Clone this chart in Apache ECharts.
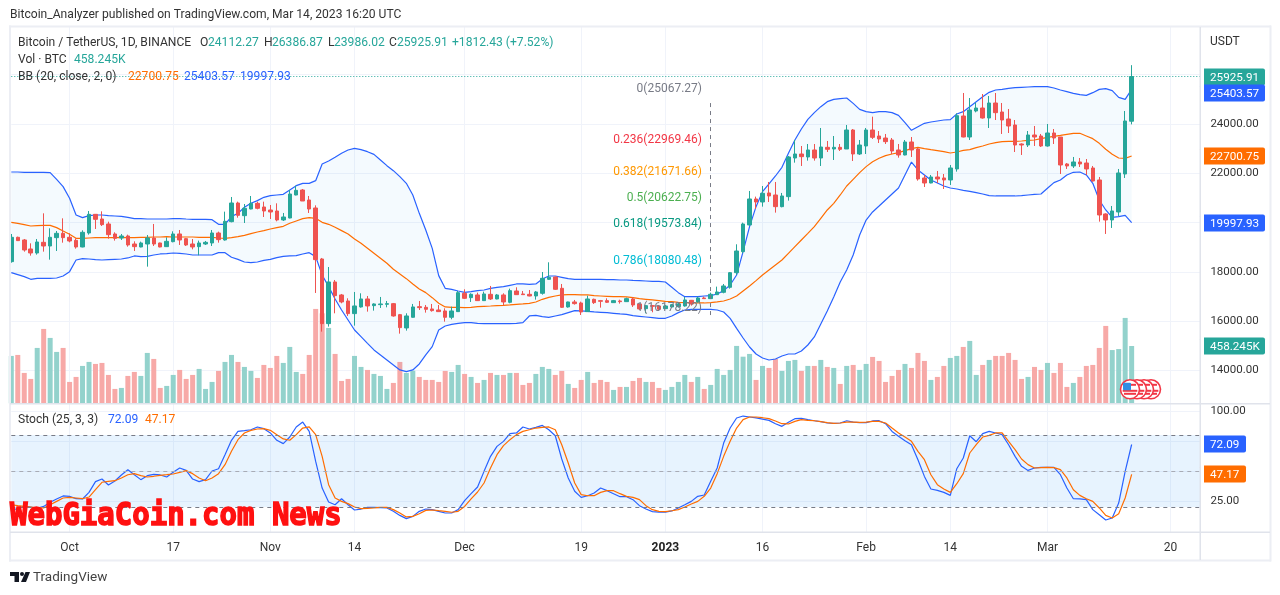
<!DOCTYPE html>
<html><head><meta charset="utf-8">
<script src="https://cdn.jsdelivr.net/npm/echarts@6/dist/echarts.min.js"></script>
<style>html,body{margin:0;padding:0;background:#fff}#c{width:1280px;height:595px}</style>
</head><body><div id="c"></div>
<script>
// [open, close, low, high] per day from 2022-09-22 to 2023-03-14
const candles = [
[18416,19403,18375,19538],[19403,19268,19254,19430],[19295,18889,18821,19335],[18930,18767,18659,19159],[18767,19213,18700,19335],[19200,19051,18821,20376],[19051,19403,18497,19768],[19389,19565,18848,19660],[19565,19389,19186,20173],[19403,19254,19200,19565],
[19281,19011,18943,19362],[19011,19606,18997,19687],[19578,20336,19511,20471],[20336,20133,19741,20336],[20146,19917,19862,20457],[19944,19511,19349,20038],[19538,19362,19268,19606],[19376,19457,19295,19538],[19457,19092,19024,19511],[19132,19024,18848,19240],
[19011,19173,18997,19227],[19132,19376,18213,19497],[19376,19132,19051,19944],[19173,19011,18997,19186],[19024,19240,19011,19403],[19227,19538,19200,19646],[19538,19295,19092,19700],[19349,19092,19051,19376],[19132,19011,18916,19335],[19024,19173,18673,19268],
[19132,19200,19092,19254],[19173,19578,19051,19700],[19578,19308,19186,19633],[19295,20052,19268,20444],[20038,20795,20011,21039],[20795,20295,20200,20849],[20281,20579,19984,20755],[20552,20782,20538,21079],[20782,20579,20538,20849],[20633,20471,20227,20849],
[20511,20430,20146,20714],[20471,20106,20052,20782],[20106,20227,20065,20390],[20187,21160,20173,21323],[21120,21309,21106,21498],[21323,20876,20876,21363],[20917,20552,20390,21079],[20593,18497,17145,20701],[18524,15901,15577,18565],[15901,17591,15780,18199],
[17591,17037,16320,17672],[17064,16780,16726,17104],[16820,16307,16212,16929],[16307,16618,15820,17185],[16577,16902,16550,17131],[16902,16618,16388,17023],[16631,16699,16428,16726],[16672,16699,16536,16983],[16685,16712,16563,16820],[16712,16212,16185,16739],
[16266,15739,15495,16293],[15725,16212,15617,16320],[16158,16577,16144,16699],[16590,16550,16455,16820],[16563,16482,16347,16658],[16496,16428,16388,16699],[16455,16388,16374,16658],[16415,16158,15982,16523],[16158,16415,16077,16590],[16388,17158,16374,17226],
[17131,16928,16901,17293],[16955,17091,16780,17131],[17064,16834,16820,17158],[16834,17104,16820,17199],[17091,16901,16861,17429],[16901,17064,16888,17104],[17064,16780,16631,17131],[16766,17239,16726,17320],[17226,17077,17064,17375],[17104,17077,17064,17226],
[17091,17023,17010,17266],[17023,17185,16874,17226],[17131,17740,17077,17996],[17699,17780,17672,18389],[17794,17293,17266,17807],[17334,16563,16536,17510],[16577,16780,16550,16793],[16780,16712,16672,16861],[16739,16374,16252,16793],[16388,16901,16374,17037],
[16888,16753,16699,16915],[16834,16807,16550,16861],[16834,16766,16739,16928],[16753,16834,16739,16861],[16820,16793,16712,16874],[16793,16915,16780,16955],[16901,16658,16577,16969],[16699,16496,16455,16699],[16509,16631,16320,16658],[16631,16604,16361,16658],
[16617,16482,16415,16644],[16509,16617,16496,16658],[16577,16672,16550,16699],[16590,16699,16550,16753],[16617,16861,16590,16983],[16847,16699,16631,16861],[16780,16942,16753,16996],[16942,16915,16901,16996],[16915,17091,16901,17158],[17077,17185,17064,17402],
[17172,17429,17131,17510],[17375,17969,17320,17996],[17969,18848,17875,19119],[18822,19944,18754,19998],[19904,20958,19877,21283],[20958,20836,20553,21053],[20836,21188,20647,21485],[21202,21080,20836,21648],[21120,20647,20404,21648],[20647,21080,20620,21202],
[21053,22662,20891,22702],[22621,22783,22432,23351],[22783,22675,22297,23108],[22662,22946,22513,23189],[22946,22621,22513,23189],[22621,23067,22297,23838],[23054,22973,22864,23311],[22986,23054,22540,23513],[23054,22973,22905,23189],[22986,23757,22986,23960],
[23757,22783,22499,23797],[22783,23148,22743,23351],[23108,23757,22783,23838],[23757,23459,23392,24298],[23513,23392,23229,23716],[23432,23284,23189,23595],[23351,22905,22783,23432],[22946,22743,22635,23189],[22743,23270,22729,23351],[23270,22946,22662,23473],
[22986,21769,21702,23027],[21810,21607,21445,21932],[21607,21850,21594,21932],[21850,21769,21607,22094],[21810,21729,21364,21972],[21729,22216,21526,22337],[22175,24338,22067,24433],[24325,23473,23459,25258],[23473,24568,23351,25055],[24528,24649,24473,24865],
[24649,24244,24217,25217],[24244,24852,23838,25136],[24852,24460,24162,25258],[24487,24162,23595,24852],[24203,23919,23635,24609],[23960,23148,22864,24162],[23189,23148,22743,23216],[23148,23554,23067,23716],[23554,23473,23108,23919],[23513,23108,23067,23595],
[23108,23635,23081,24000],[23635,23432,23189,23797],[23473,22337,21972,23473],[22378,22297,22175,22418],[22297,22459,22215,22662],[22459,22378,22256,22621],[22418,22175,21932,22580],[22215,21688,21661,22297],[21729,20309,20039,21850],[20350,20106,19539,20377],
[20106,20472,19782,20674],[20431,22013,20269,22175],[21972,24122,21810,24528],[24112.27,25925.91,23986.02,26386.87]];
const volumeK = [379,387,243,195,443,595,523,411,443,171,211,299,331,315,323,227,115,123,219,251,219,403,355,123,139,227,267,195,227,275,115,171,259,331,387,331,291,259,203,307,283,379,323,451,251,235,387,755,720,603,395,179,195,379,291,267,235,219,115,163,331,243,261,211,187,187,171,259,251,307,235,211,163,187,243,227,227,243,243,147,163,235,291,275,227,259,155,123,187,251,163,187,171,107,131,131,179,203,171,171,123,107,131,171,227,171,211,115,147,275,227,267,459,373,395,187,299,283,355,259,339,347,259,299,299,347,291,283,155,299,307,267,315,371,339,171,219,267,315,283,403,339,187,211,299,363,379,451,499,227,307,347,379,379,403,347,195,211,291,267,323,243,323,131,163,211,299,307,443,619,426,434,683,458.245];
const bbUpper = [22053,22053,22039,22039,22039,22039,22026,21755,21458,20985,20309,20200,20282,20309,20309,20282,20268,20255,20214,20160,20160,20146,20146,20146,20146,20160,20160,20146,20133,20133,20133,20119,19930,19930,20241,20376,20620,20782,20890,21025,21093,21120,21147,21323,21498,21593,21593,21701,22377,22499,22648,22810,22945,23013,22959,22877,22769,22539,22310,22107,21863,21593,21120,20376,19700,18956,17848,17334,17293,17226,17172,17199,17239,17266,17334,17375,17402,17456,17510,17510,17496,17510,17713,17834,17834,17780,17726,17699,17699,17699,17699,17699,17686,17686,17672,17672,17658,17645,17631,17618,17618,17591,17375,17158,16996,16996,16996,17023,17037,17104,17239,17469,17875,18822,19836,20647,21256,21567,21891,22243,22810,23351,23797,24189,24460,24703,24906,25001,25028,25055,24838,24595,24500,24460,24500,24500,24460,24352,24054,23743,23892,24027,24081,24122,24162,24176,24406,24500,24703,24906,25109,25285,25379,25406,25447,25474,25487,25501,25514,25514,25514,25460,25379,25312,25244,25190,25163,25271,25406,25433,25352,25082,25001,25403.57];
const bbMiddle = [20011,19971,19917,19862,19876,19889,19889,19795,19660,19524,19362,19362,19376,19389,19389,19389,19389,19403,19389,19389,19403,19403,19416,19416,19430,19416,19416,19416,19416,19403,19403,19403,19376,19362,19389,19430,19484,19552,19619,19673,19741,19795,19849,19971,20065,20160,20200,20173,20011,19930,19808,19673,19538,19335,19159,18957,18754,18551,18348,18105,17916,17726,17510,17307,17158,16955,16726,16577,16563,16563,16550,16563,16590,16604,16617,16631,16644,16658,16685,16699,16726,16780,16888,16969,17023,17064,17077,17077,17064,17064,17037,17023,17010,16996,16996,16983,16955,16915,16888,16861,16834,16807,16793,16766,16753,16739,16739,16739,16753,16780,16820,16901,17023,17227,17430,17646,17876,18078,18281,18484,18754,19025,19295,19565,19836,20174,20512,20782,21120,21485,21756,22026,22270,22472,22608,22716,22783,22837,22919,23000,23054,23000,22959,22919,22878,22824,22864,22932,22959,23040,23108,23189,23243,23284,23297,23297,23311,23338,23351,23405,23459,23500,23540,23581,23622,23622,23513,23405,23216,22973,22770,22621,22608,22700.75];
const bbLower = [17970,17889,17807,17699,17740,17740,17740,17753,17834,18010,18483,18538,18524,18497,18483,18497,18510,18524,18565,18646,18619,18632,18686,18727,18740,18767,18754,18727,18686,18686,18686,18686,18781,18781,18592,18510,18402,18375,18402,18470,18510,18578,18632,18646,18659,18727,18781,18619,17875,17402,16902,16455,16050,15644,15374,15103,14833,14630,14428,14225,14022,13954,14022,14265,14630,14968,15644,15806,15874,15914,15941,15941,15914,15901,15901,15901,15901,15901,15914,15941,16212,16239,16185,16158,16212,16266,16347,16428,16415,16401,16374,16361,16347,16320,16293,16280,16225,16198,16171,16144,16117,16117,16212,16347,16455,16482,16482,16482,16482,16455,16374,16117,15711,15318,14953,14669,14507,14426,14466,14588,14669,14669,14791,15034,15359,15886,16413,16981,17590,18077,18685,19497,20105,20430,20673,20917,21160,21404,21931,22458,22134,21931,21728,21606,21485,21404,21363,21310,21269,21215,21161,21093,21080,21080,21080,21080,21093,21120,21147,21161,21391,21621,21729,21932,22040,22053,21932,21594,20918,20512,20215,20242,20296,19997.93];
const stochK = [16.4,19.2,20.5,20.0,18.9,20.5,23.9,26.7,29.2,28.9,26.9,26.7,32.2,41.1,43.3,38.3,41.7,46.7,51.1,46.9,42.8,46.1,47.2,46.7,45.0,48.9,52.5,50.5,43.3,41.1,42.8,50.0,51.9,63.6,75.6,83.0,83.6,84.4,86.7,85.3,81.7,75.6,72.8,78.3,86.7,90.8,83.0,58.0,35.8,24.2,21.9,26.9,21.9,17.5,18.3,19.7,19.7,19.4,19.2,16.4,13.0,10.3,12.2,16.4,18.3,17.8,16.4,15.0,15.0,17.8,25.3,31.1,36.7,49.7,62.2,70.5,74.7,81.1,81.7,86.7,85.0,86.4,88.0,84.4,79.4,60.0,44.2,33.1,28.0,29.4,31.7,35.8,33.6,31.1,28.6,28.6,26.1,21.1,18.3,16.1,15.8,15.8,16.7,19.2,21.9,24.7,28.9,30.0,41.4,52.5,73.3,85.8,94.2,95.8,95.0,94.2,93.3,92.2,89.4,87.2,90.6,93.6,93.9,92.8,91.9,91.1,90.0,89.7,90.0,91.9,90.8,90.3,90.3,91.7,91.9,89.4,83.0,78.9,75.3,71.9,59.4,45.5,35.0,33.9,32.2,29.7,51.9,60.8,79.4,74.4,81.1,83.0,81.7,80.3,71.9,62.2,53.9,50.5,52.5,53.1,53.1,53.1,46.9,35.8,26.9,26.7,26.1,17.8,13.6,9.2,10.8,23.3,49.7,72.09];
const stochD = [21.9,21.1,20.5,20.0,19.2,19.2,21.9,24.7,27.5,28.0,27.5,26.9,28.3,34.4,40.6,41.4,41.9,44.2,46.9,47.8,46.1,45.0,45.6,46.4,46.9,47.5,48.9,50.3,47.8,44.2,41.9,44.2,47.8,55.3,66.4,76.1,81.7,83.9,85.0,85.3,83.9,80.3,76.7,75.6,80.3,85.8,86.7,80.3,62.2,38.6,27.5,24.7,22.8,20.0,18.6,18.9,19.2,19.7,19.7,17.8,15.0,11.7,12.2,14.4,17.2,17.5,16.9,16.4,15.6,16.4,20.5,26.7,32.5,40.0,52.5,63.6,71.1,76.1,80.3,83.0,84.4,85.8,86.4,86.7,84.4,71.9,56.7,40.0,30.3,29.4,29.4,32.2,33.6,33.6,31.1,28.9,28.0,26.1,21.1,17.8,16.4,16.1,16.9,17.8,20.0,22.5,24.7,28.9,35.8,47.8,62.2,74.7,85.8,92.8,95.0,95.0,94.4,93.6,91.7,89.4,89.2,91.4,92.8,92.2,91.9,91.1,90.3,89.7,90.0,90.8,90.8,90.6,90.8,91.4,91.4,90.0,85.8,81.7,78.3,74.7,66.4,59.4,46.9,38.6,35.0,32.2,39.4,47.8,65.0,71.9,78.3,79.7,81.7,81.7,74.7,67.8,60.0,55.3,52.5,52.8,53.1,52.8,51.1,44.2,34.4,29.7,26.9,24.7,19.2,13.0,10.8,14.4,27.5,47.17];
const tickIndex = [9,25,40,53,70,88,101,116,132,145,160,179];
const tickLabels = ['Oct','17','Nov','14','Dec','19','2023','16','Feb','14','Mar','20'];
const fibRatios = ['0','0.236','0.382','0.5','0.618','0.786','1'];
const fibPrices = [25067.27,22969.46,21671.66,20622.75,19573.84,18080.48,16178.22];
const fibColors = ['#787b86','#f23645','#ff9800','#4caf50','#089981','#00bcd4','#787b86'];
const priceTagValues = [25925.91,25403.57,22700.75,19997.93];
const priceTagColors = ['#26a69a','#2962ff','#ff6d00','#2962ff'];
const priceTagNudge = [0,4,0,0];
const volumeTag = 458.245;
const stochTagValues = [72.09,47.17];
const stochTagColors = ['#2962ff','#ff6d00'];

const FONT = 'Roboto';
const TOTAL = 185;
const cats = Array.from({length:TOTAL},(_, i)=>{const k=tickIndex.indexOf(i);return k>=0?tickLabels[k]:'d'+i;});
const isTick = i => tickIndex.indexOf(i)>=0;
const L = 11.3, W = 6.476*(TOTAL-1);
const GRIDC = '#f0f3fa';
const UP='#26a69a', DOWN='#ef5350';
const LW = 1.2;

const hiddenX = g => ({type:'category',gridIndex:g,data:cats,boundaryGap:false,show:false});

function tagSeries(vals, cols, xAxisIndex, yAxisIndex, w, fmt, nudge){
  return {type:'custom',xAxisIndex,yAxisIndex,z:20,silent:true,clip:false,
    data:vals.map(v=>[173,v]),
    renderItem:(p,api)=>{
      const y=Math.round(api.coord([173,api.value(1)])[1])+(nudge?nudge[p.dataIndex]:0);
      return {type:'group',children:[
        {type:'rect',shape:{x:1200,y:y-8.5,width:w,height:17,r:2},style:{fill:cols[p.dataIndex]}},
        {type:'text',style:{x:1210,y:y+1,text:fmt(vals[p.dataIndex]),fill:'#fff',font:'11.7px '+FONT,textVerticalAlign:'middle',textAlign:'left'}}
      ]};
    }};
}

const option = {
  animation:false, backgroundColor:'#fff',
  textStyle:{fontFamily:FONT},
  grid:[
    {left:L,width:W,top:124-4000/40.57,height:16000/40.57},
    {left:L,width:W,top:303.3,height:100},
    {left:L,width:W,top:381,height:150},
    {left:L,width:W,top:27,height:505}
  ],
  xAxis:[hiddenX(0),hiddenX(1),hiddenX(2),{
    type:'category',gridIndex:3,data:cats,boundaryGap:false,
    axisLine:{show:false},axisTick:{show:false},
    splitLine:{show:true,interval:(i)=>isTick(i),lineStyle:{color:GRIDC,width:1}},
    axisLabel:{interval:(i)=>isTick(i),margin:10,color:'#333',fontSize:12,fontFamily:FONT,hideOverlap:false,
      formatter:v=>v==='2023'?'{b|2023}':v,rich:{b:{fontWeight:'bold',fontSize:12,color:'#222',fontFamily:FONT}}}
  }],
  yAxis:[
    {type:'value',gridIndex:0,position:'right',min:12000,max:28000,interval:2000,
     axisLine:{show:false},axisTick:{show:false},
     splitLine:{show:true,showMinLine:false,showMaxLine:false,lineStyle:{color:GRIDC}},
     axisLabel:{margin:7.5,color:'#333',fontSize:11.5,fontFamily:FONT,padding:[2,0,0,0],
       formatter:v=>(v>=14000&&v<=24000)?v.toFixed(2):''}},
    {type:'value',gridIndex:1,min:0,max:800,show:false,splitLine:{show:false}},
    {type:'value',gridIndex:2,position:'right',min:0,max:125,interval:25,
     axisLine:{show:false},axisTick:{show:false},
     splitLine:{show:true,showMinLine:false,showMaxLine:false,lineStyle:{color:GRIDC}},
     axisLabel:{margin:7.5,color:'#333',fontSize:11.5,fontFamily:FONT,padding:[2,0,0,0],
       formatter:v=>(v===100||v===25)?v.toFixed(2):''}},
    {type:'value',gridIndex:3,show:false,splitLine:{show:false}}
  ],
  series:[
    {type:'bar',xAxisIndex:1,yAxisIndex:1,barWidth:5,silent:true,z:1,
     data:volumeK.map((v,i)=>({value:v,itemStyle:{color:candles[i][1]>=candles[i][0]?'#93d2cc':'#f7a9a7'}}))},
    {type:'line',xAxisIndex:0,yAxisIndex:0,stack:'bb',data:bbLower,showSymbol:false,lineStyle:{width:0},silent:true,z:2},
    {type:'line',xAxisIndex:0,yAxisIndex:0,stack:'bb',data:bbUpper.map((u,i)=>u-bbLower[i]),showSymbol:false,lineStyle:{width:0},
     areaStyle:{color:'rgba(33,150,243,0.05)',opacity:1},silent:true,z:2},
    {type:'line',name:'upper',xAxisIndex:0,yAxisIndex:0,data:bbUpper,showSymbol:false,lineStyle:{width:LW,color:'#2962ff'},silent:true,z:3},
    {type:'line',name:'lower',xAxisIndex:0,yAxisIndex:0,data:bbLower,showSymbol:false,lineStyle:{width:LW,color:'#2962ff'},silent:true,z:3},
    {type:'line',name:'mid',xAxisIndex:0,yAxisIndex:0,data:bbMiddle,showSymbol:false,lineStyle:{width:LW,color:'#ff6d00'},silent:true,z:3},
    {type:'candlestick',xAxisIndex:0,yAxisIndex:0,data:candles,barWidth:4,silent:true,z:4,
     itemStyle:{color:UP,color0:DOWN,borderColor:UP,borderColor0:DOWN,borderWidth:1},
     markLine:{silent:true,symbol:'none',animation:false,label:{show:false},
       data:[
         [{xAxis:0,yAxis:priceTagValues[0],lineStyle:{color:UP,type:[1,2],width:1}},{xAxis:TOTAL-1,yAxis:priceTagValues[0]}],
         [{xAxis:108,yAxis:24850,lineStyle:{color:'#787b86',type:[4,4],width:1}},{xAxis:108,yAxis:16100}]
       ]}},
    {type:'custom',xAxisIndex:0,yAxisIndex:0,z:5,silent:true,clip:false,
     data:fibPrices.map(v=>[107,v]),
     renderItem:(p,api)=>{
       const c=api.coord([107,api.value(1)]);
       return {type:'text',style:{x:702,y:c[1]-9,text:fibRatios[p.dataIndex]+'('+fibPrices[p.dataIndex].toFixed(2)+')',
         fill:fibColors[p.dataIndex],font:'12px '+FONT,textAlign:'right',textVerticalAlign:'middle'}};
     }},
    {type:'line',xAxisIndex:2,yAxisIndex:2,data:stochK,showSymbol:false,lineStyle:{width:LW,color:'#2962ff'},silent:true,z:3,
     markArea:{silent:true,itemStyle:{color:'rgba(33,150,243,0.11)'},data:[[{yAxis:20},{yAxis:80}]]},
     markLine:{silent:true,symbol:'none',label:{show:false},lineStyle:{color:'#787b86',type:[4,4],width:1},
       data:[{yAxis:80},{yAxis:50,lineStyle:{color:'#a8abb5',type:[4,4],width:1}},{yAxis:20}]}},
    {type:'line',xAxisIndex:2,yAxisIndex:2,data:stochD,showSymbol:false,lineStyle:{width:LW,color:'#ff6d00'},silent:true,z:3},
    tagSeries(priceTagValues,priceTagColors,0,0,65,v=>v.toFixed(2),priceTagNudge),
    tagSeries([volumeTag],[UP],1,1,65,v=>v.toFixed(3)+'K'),
    tagSeries(stochTagValues,stochTagColors,2,2,46,v=>v.toFixed(2))
  ],
  graphic:{elements:buildGraphics()}
};

function buildGraphics(){
  const O=100, els=[];
  const rect=(x,y,w,h,fill,z)=>els.push({type:'rect',silent:true,z:z||O,shape:{x,y,width:w,height:h},style:{fill}});
  const text=(x,y,t,fill,size)=>els.push({type:'text',silent:true,z:O+2,x,y,style:{text:t,fill,font:size+'px '+FONT,textVerticalAlign:'middle',textAlign:'left'}});
  // frame and separators
  const B='#eceef4', S='#e0e3eb';
  rect(9,25.5,1262,2,B); rect(9,559.5,1262,2,B); rect(9,25.5,2,536,B); rect(1269.5,25.5,2,536,B);
  rect(1201,28,3,504,'#fff',O-1);
  rect(1199.5,27,1.5,533,S); rect(10,403,1260,1.5,S); rect(10,531.5,1260,1.5,S);
  // header
  const H=12.1;
  text(10,15,'Bitcoin_Analyzer published on TradingView.com, Mar 14, 2023 16:20 UTC','#333',H);
  text(18,43,'Bitcoin / TetherUS, 1D, BINANCE','#333',H);
  const row=[[200,'O','#333'],[208,'24112.27',UP],[264,'H','#333'],[272,'26386.87',UP],[328,'L','#333'],[334,'23986.02',UP],[389,'C','#333'],[397,'25925.91',UP],[452,'+1812.43 (+7.52%)',UP]];
  row.forEach(r=>text(r[0],43,r[1],r[2],H));
  text(18,60,'Vol · BTC','#333',H); text(74,60,'458.245K',UP,H);
  text(18,77,'BB (20, close, 2, 0)','#333',H);
  text(128,77,'22700.75','#ff6d00',H); text(184,77,'25403.57','#2962ff',H); text(240,77,'19997.93','#2962ff',H);
  text(18,420,'Stoch (25, 3, 3)','#333',H); text(108,420,'72.09','#2962ff',H); text(145,420,'47.17','#ff6d00',H);
  text(1210,42,'USDT','#333',12);
  // flags
  [1151,1144,1137,1130].forEach((cx,k)=>{
    const cy=389.3;
    els.push({type:'circle',silent:true,z:O+3,shape:{cx,cy,r:9.5},style:{fill:'#fff',stroke:'#f23645',lineWidth:1.6}});
    [-4.5,-1.5,1.5,4.5].forEach((d,j)=>{
      if(j===1) return;
      const half=Math.sqrt(56-d*d);
      els.push({type:'line',silent:true,z:O+3,shape:{x1:cx-half,y1:cy+d,x2:cx+half,y2:cy+d},style:{stroke:'#f23645',lineWidth:2}});
    });
    if(k===3) els.push({type:'rect',silent:true,z:O+3,shape:{x:cx-7,y:cy-6.5,width:8,height:7.5,r:1},style:{fill:'#2f8de4'}});
  });
  // watermark
  els.push({type:'text',silent:true,z:O+5,x:10,y:501,scaleY:1.1,
    style:{text:'WebGiaCoin.com News',fill:'#ff1010',stroke:'#ff1010',lineWidth:1.4,font:'bold 29px "DejaVu Sans Mono"',textAlign:'left',textVerticalAlign:'top'}});
  // TradingView logo
  els.push({type:'polygon',silent:true,z:O,shape:{points:[[10,572],[19,572],[19,582],[14.5,582],[14.5,576],[10,576]]},style:{fill:'#131722'}});
  els.push({type:'circle',silent:true,z:O,shape:{cx:22,cy:574,r:2},style:{fill:'#131722'}});
  els.push({type:'polygon',silent:true,z:O,shape:{points:[[25.5,572],[30,572],[26,582],[21,582]]},style:{fill:'#131722'}});
  text(33,578,'TradingView','#444',13.5);
  return els;
}
echarts.init(document.getElementById('c'),null,{renderer:'canvas'}).setOption(option);
</script></body></html>
